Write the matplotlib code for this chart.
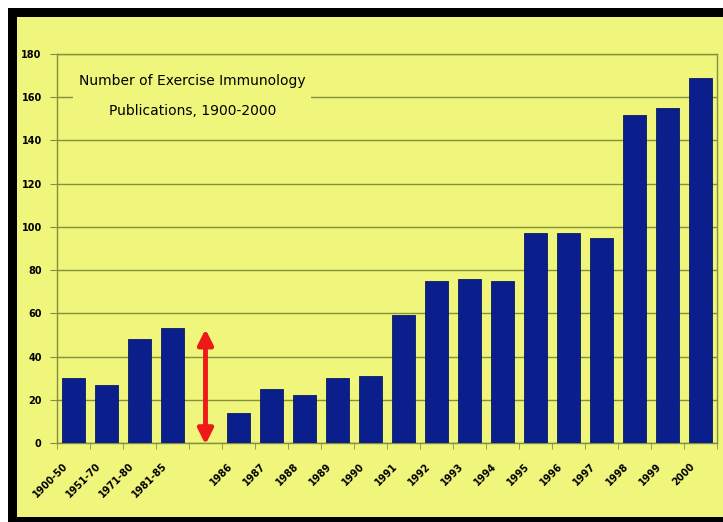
import numpy as np
import matplotlib.pyplot as plt
from matplotlib.patches import Rectangle
from matplotlib import transforms

# data
labels = ["1900-50", "1951-70", "1971-80", "1981-85", "",
          "1986", "1987", "1988", "1989", "1990", "1991", "1992", "1993",
          "1994", "1995", "1996", "1997", "1998", "1999", "2000"]
counts = [30, 27, 48, 53, np.nan,
          14, 25, 22, 30, 31, 59, 75, 76,
          75, 97, 97, 95, 152, 155, 169]
gap_index = 4

yellow = "#f0f67c"
olive = "#84903e"
navy = "#0b1f8c"

fig = plt.figure(figsize=(7.23, 5.22), dpi=100, facecolor="white")

# black frame + yellow panel behind the chart
fig.patches.append(Rectangle((8/723, 0), 1, (522-8)/522, transform=fig.transFigure,
                             facecolor="black", edgecolor="none", zorder=-2))
fig.patches.append(Rectangle((17/723, 5/522), 1, (522-17-5)/522, transform=fig.transFigure,
                             facecolor=yellow, edgecolor="none", zorder=-1))

ax = fig.add_axes([57/723, 79/522, 660/723, 389/522])
ax.set_facecolor(yellow)

x = np.arange(len(labels))
ax.bar(x, counts, width=0.72, color=navy, edgecolor="#0a1a60", linewidth=0.6, zorder=3)

ax.set_xlim(-0.5, len(labels) - 0.5)
ax.set_ylim(0, 180)
ax.set_yticks(np.arange(0, 181, 20))
ax.yaxis.grid(True, color=olive, linewidth=1.0)
ax.set_axisbelow(True)

for s in ax.spines.values():
    s.set_color(olive)
    s.set_linewidth(1.0)

ax.set_xticks(x)
ax.set_xticklabels(labels, rotation=45, ha="right", rotation_mode="anchor",
                   fontsize=7, fontweight="bold")
ax.set_xticks(np.arange(-0.5, len(labels), 1), minor=True)
ax.tick_params(axis="x", which="major", length=0, pad=10)
ax.tick_params(axis="x", which="minor", length=4, color=olive, direction="out")
ax.tick_params(axis="y", length=5, color=olive, labelsize=7, pad=6)
for t in ax.get_yticklabels():
    t.set_fontweight("bold")

# shift the slanted labels a little left/down like the original
shift = transforms.ScaledTranslation(-11/100, -4/100, fig.dpi_scale_trans)
for t in ax.get_xticklabels():
    t.set_transform(t.get_transform() + shift)

# red double arrow in the gap
ax.annotate("", xy=(gap_index, -2), xytext=(gap_index, 54),
            arrowprops=dict(arrowstyle="<|-|>,head_length=0.9,head_width=0.45",
                            color="#ee1a1a", lw=3.5),
            annotation_clip=False, zorder=5)

ax.text(0.205, 0.948, "Number of Exercise Immunology\nPublications, 1900-2000",
        transform=ax.transAxes, ha="center", va="top", fontsize=10,
        linespacing=2.45, zorder=6,
        bbox=dict(facecolor=yellow, edgecolor="none", pad=4))

fig.savefig("out.png", dpi=100, facecolor="white")
